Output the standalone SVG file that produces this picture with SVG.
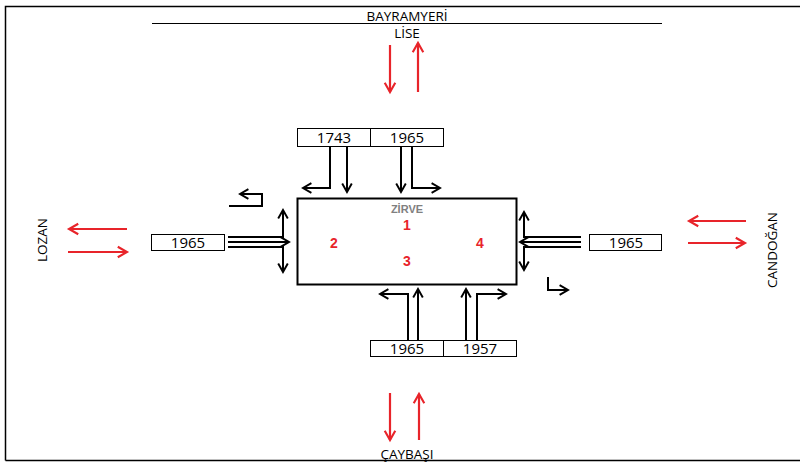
<svg xmlns="http://www.w3.org/2000/svg" width="800" height="463" viewBox="0 0 800 463">
<style>
text{font-family:"Open Sans","Liberation Sans",sans-serif;fill:#000}
.lbl{font-size:13.5px;text-anchor:middle}
.num{font-size:15px;text-anchor:middle}
.red{font-family:"Liberation Sans",sans-serif;font-weight:bold;font-size:14px;fill:#e8242a;text-anchor:middle}
.box{fill:#fff;stroke:#000;stroke-width:1}
.k{fill:none;stroke:#000;stroke-width:2}
.r{fill:none;stroke:#e8242a;stroke-width:2.2}
</style>
<defs>
<marker id="ak" viewBox="0 0 10 10" refX="8" refY="5" markerWidth="6" markerHeight="6" orient="auto" markerUnits="strokeWidth"><path d="M1,1 L8,5 L1,9" fill="none" stroke="#000" stroke-width="1.6"/></marker>
<marker id="ar" viewBox="0 0 10 10" refX="8" refY="5" markerWidth="6" markerHeight="6" orient="auto" markerUnits="strokeWidth"><path d="M1,1 L8,5 L1,9" fill="none" stroke="#e8242a" stroke-width="1.6"/></marker>
</defs>
<rect width="800" height="463" fill="#fff"/>
<path d="M5.5,460.5 V6.5 H800 M5.5,460.5 H800" fill="none" stroke="#000" stroke-width="1.5"/>
<line x1="152" y1="23.5" x2="662" y2="23.5" stroke="#000" stroke-width="1.2"/>
<g id="labels">
<text class="lbl" x="407" y="21">BAYRAMYERİ</text>
<text class="lbl" x="407" y="38">LİSE</text>
<text class="lbl" x="407" y="459">ÇAYBAŞI</text>
<text class="lbl" transform="translate(47,240) rotate(-90)">LOZAN</text>
<text class="lbl" transform="translate(777,250) rotate(-90)">CANDOĞAN</text>
</g>
<g id="zirve">
<rect x="297.5" y="198.5" width="219" height="86" fill="#fff" stroke="#000" stroke-width="2"/>
<text x="407" y="213" style="font-family:'Liberation Sans',sans-serif;font-weight:bold;font-size:11px;fill:#808080;text-anchor:middle">ZİRVE</text>
<text class="red" x="407" y="230">1</text>
<text class="red" x="334" y="248">2</text>
<text class="red" x="480" y="248">4</text>
<text class="red" x="407" y="266">3</text>
</g>
<g id="top-boxes">
<rect class="box" x="297.5" y="128.5" width="73" height="18"/>
<rect class="box" x="370.5" y="128.5" width="73" height="18"/>
<text class="num" x="334" y="143">1743</text>
<text class="num" x="407" y="143">1965</text>
</g>
<g id="left-box">
<rect class="box" x="151.5" y="234.5" width="73" height="16"/>
<text class="num" x="188" y="248">1965</text>
</g>
<g id="right-box">
<rect class="box" x="589.5" y="234.5" width="72" height="16"/>
<text class="num" x="626" y="248">1965</text>
</g>
<g id="bottom-boxes">
<rect class="box" x="370.5" y="340.5" width="73" height="16"/>
<rect class="box" x="443.5" y="340.5" width="73" height="16"/>
<text class="num" x="407" y="354">1965</text>
<text class="num" x="480" y="354">1957</text>
</g>
<g id="connectors">
<path class="k" d="M330,147 V188 H303" marker-end="url(#ak)"/>
<path class="k" d="M347,147 V192" marker-end="url(#ak)"/>
<path class="k" d="M401,147 V192" marker-end="url(#ak)"/>
<path class="k" d="M412,147 V188 H440" marker-end="url(#ak)"/>
<path class="k" d="M228,237 H283 V210" marker-end="url(#ak)"/>
<path class="k" d="M228,242 H289" marker-end="url(#ak)"/>
<path class="k" d="M228,247 H283 V272" marker-end="url(#ak)"/>
<path class="k" d="M229,206 H262 V194 H240" stroke-width="1.6" marker-end="url(#ak)"/>
<path class="k" d="M581,237 H524 V212" marker-end="url(#ak)"/>
<path class="k" d="M581,242 H520" marker-end="url(#ak)"/>
<path class="k" d="M581,247 H524 V270" marker-end="url(#ak)"/>
<path class="k" d="M548,277 V290 H568" stroke-width="1.6" marker-end="url(#ak)"/>
<path class="k" d="M408,340 V294 H380" marker-end="url(#ak)"/>
<path class="k" d="M418,340 V289" marker-end="url(#ak)"/>
<path class="k" d="M466,340 V289" marker-end="url(#ak)"/>
<path class="k" d="M477,340 V294 H506" marker-end="url(#ak)"/>
<path class="r" d="M390,45 V92" marker-end="url(#ar)"/>
<path class="r" d="M418,92 V43" marker-end="url(#ar)"/>
<path class="r" d="M390,393 V440" marker-end="url(#ar)"/>
<path class="r" d="M419,440 V394" marker-end="url(#ar)"/>
<path class="r" d="M127,229 H69" marker-end="url(#ar)"/>
<path class="r" d="M68,252 H127" marker-end="url(#ar)"/>
<path class="r" d="M746,221 H689" marker-end="url(#ar)"/>
<path class="r" d="M688,243 H745" marker-end="url(#ar)"/>
</g>
</svg>
